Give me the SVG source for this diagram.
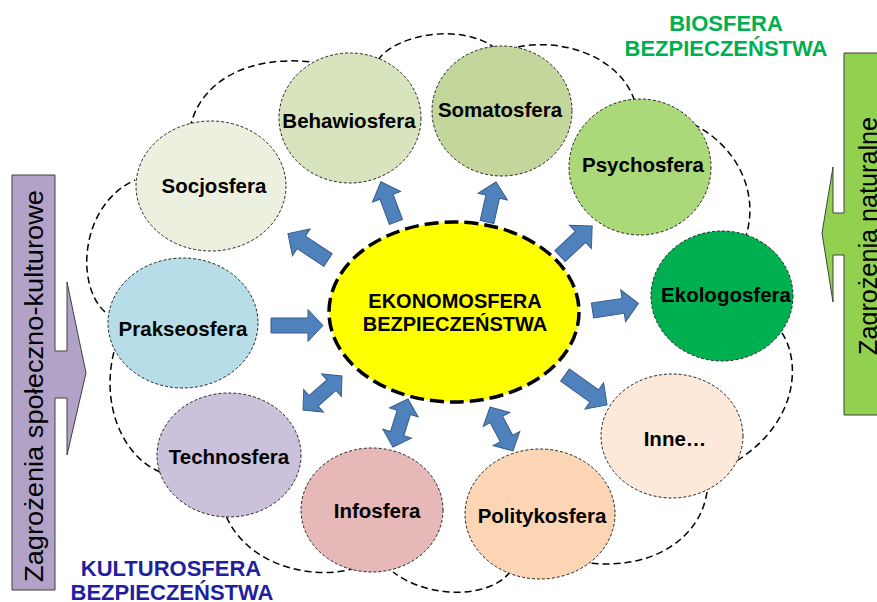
<svg xmlns="http://www.w3.org/2000/svg" width="877" height="602" viewBox="0 0 877 602">
<style>
.cloud{fill:none;stroke:#000;stroke-width:1.5;stroke-dasharray:7 4}
.node{stroke:#222;stroke-width:1;stroke-dasharray:3 2}
.lbl{font-family:"Liberation Sans",Arial,sans-serif;font-weight:bold;font-size:20.5px;fill:#000;text-anchor:middle}
.ctr{font-family:"Liberation Sans",Arial,sans-serif;font-weight:bold;font-size:20px;fill:#000;text-anchor:middle}
.arr{fill:#4f81bd;stroke:#385d8a;stroke-width:1}
.big{font-family:"Liberation Sans",Arial,sans-serif;font-weight:bold;font-size:22px;text-anchor:middle}
.side{font-family:"Liberation Sans",Arial,sans-serif;font-size:25px;fill:#000;text-anchor:middle}
</style>
<rect width="877" height="602" fill="#fff"/>
<g id="cloud">
<path class="cloud" d="M190,128 C200,80 250,55 312,62"/>
<path class="cloud" d="M378,60 C395,35 460,22 495,48"/>
<path class="cloud" d="M518,47 C560,38 620,55 635,102"/>
<path class="cloud" d="M693,124 C735,145 760,190 746,236"/>
<path class="cloud" d="M782,333 C800,360 800,420 738,460"/>
<path class="cloud" d="M707,492 C700,540 650,570 590,563"/>
<path class="cloud" d="M510,572 C490,598 430,600 393,572"/>
<path class="cloud" d="M355,568 C320,580 250,570 226,516"/>
<path class="cloud" d="M160,472 C120,455 100,400 115,348"/>
<path class="cloud" d="M105,312 C75,285 80,205 135,180"/>
</g>
<g id="left-threat">
<path d="M12,175 L55,175 L55,351 L67,351 L67,282 L86,373 L67,455 L67,398 L55,398 L55,590 L12,590 Z" fill="#b3a2c7" stroke="#404040" stroke-width="1"/>
<text class="side" transform="translate(43,386) rotate(-90)" textLength="392" lengthAdjust="spacingAndGlyphs">Zagrożenia społeczno-kulturowe</text>
</g>
<g id="right-threat">
<path d="M880,53 L844,53 L844,213 L833,213 L833,167 L822,233 L833,302 L833,255 L844,255 L844,415 L880,415" fill="#92d050" stroke="#404040" stroke-width="1"/>
<text class="side" transform="translate(877,236) rotate(-90)" textLength="238" lengthAdjust="spacingAndGlyphs">Zagrożenia naturalne</text>
</g>
<g id="biosfera-label">
<text class="big" fill="#00b050" x="726" y="31">BIOSFERA</text>
<text class="big" fill="#00b050" x="726" y="56">BEZPIECZEŃSTWA</text>
</g>
<g id="kulturosfera-label">
<text class="big" fill="#1f1fa0" x="171" y="576">KULTUROSFERA</text>
<text class="big" fill="#1f1fa0" x="172" y="600">BEZPIECZEŃSTWA</text>
</g>
<g id="socjosfera"><ellipse class="node" cx="211" cy="186" rx="75" ry="65" fill="#ebf1de"/><text class="lbl" x="214" y="193">Socjosfera</text></g>
<g id="behawiosfera"><ellipse class="node" cx="350" cy="118" rx="71" ry="65" fill="#d7e4bd" stroke="#5f7f9f"/><text class="lbl" x="349" y="128">Behawiosfera</text></g>
<g id="somatosfera"><ellipse class="node" cx="502" cy="111" rx="70" ry="65" fill="#c3d69b"/><text class="lbl" x="500" y="117">Somatosfera</text></g>
<g id="psychosfera"><ellipse class="node" cx="640" cy="167" rx="71" ry="68" fill="#abd97a"/><text class="lbl" x="643" y="172">Psychosfera</text></g>
<g id="ekologosfera"><ellipse class="node" cx="722" cy="296" rx="71" ry="65" fill="#00b050"/><text class="lbl" x="726" y="302">Ekologosfera</text></g>
<g id="inne"><ellipse class="node" cx="672" cy="436" rx="71" ry="62" fill="#fde9d9"/><text class="lbl" x="675" y="446">Inne…</text></g>
<g id="politykosfera"><ellipse class="node" cx="540" cy="514" rx="75" ry="65" fill="#fcd5b5"/><text class="lbl" x="542" y="523">Politykosfera</text></g>
<g id="infosfera"><ellipse class="node" cx="372" cy="510" rx="71" ry="62" fill="#e6b9b8"/><text class="lbl" x="377" y="518">Infosfera</text></g>
<g id="technosfera"><ellipse class="node" cx="229" cy="455" rx="72" ry="62" fill="#ccc1da"/><text class="lbl" x="229" y="464">Technosfera</text></g>
<g id="prakseosfera"><ellipse class="node" cx="183" cy="323" rx="75" ry="65" fill="#b7dee8"/><text class="lbl" x="183" y="336">Prakseosfera</text></g>
<g id="ekonomosfera">
<ellipse cx="454" cy="312" rx="125" ry="90" fill="#ffff00" stroke="#000" stroke-width="3.5" stroke-dasharray="14 6"/>
<text class="ctr" x="455" y="308">EKONOMOSFERA</text>
<text class="ctr" x="455" y="331">BEZPIECZEŃSTWA</text>
</g>
<g id="connectors">
<path class="arr" transform="translate(271,325.5) rotate(0)" d="M0,-7.5 L37,-7.5 L37,-16 L52,0 L37,16 L37,7.5 L0,7.5 Z"/>
<path class="arr" transform="translate(328,260) rotate(213.4)" d="M0,-7.5 L32,-7.5 L32,-16 L48,0 L32,16 L32,7.5 L0,7.5 Z"/>
<path class="arr" transform="translate(396,222) rotate(249.4)" d="M0,-7 L27,-7 L27,-15 L43,0 L27,15 L27,7 L0,7 Z"/>
<path class="arr" transform="translate(487,222) rotate(-77.3)" d="M0,-7 L26,-7 L26,-15 L41,0 L26,15 L26,7 L0,7 Z"/>
<path class="arr" transform="translate(560,256) rotate(-43)" d="M0,-7.5 L28,-7.5 L28,-16 L44,0 L28,16 L28,7.5 L0,7.5 Z"/>
<path class="arr" transform="translate(592.5,310.5) rotate(-8.7)" d="M0,-7.5 L31,-7.5 L31,-16 L46.5,0 L31,16 L31,7.5 L0,7.5 Z"/>
<path class="arr" transform="translate(565,375) rotate(35.5)" d="M0,-7.5 L36,-7.5 L36,-16 L51.6,0 L36,16 L36,7.5 L0,7.5 Z"/>
<path class="arr" transform="translate(490,407) rotate(62.4)" d="M0,0 L14,-15 L14,-7 L35.6,-7 L35.6,-15 L49.6,0 L35.6,15 L35.6,7 L14,7 L14,15 Z"/>
<path class="arr" transform="translate(408,399) rotate(107.4)" d="M0,0 L14,-15 L14,-7 L36.3,-7 L36.3,-15 L50.3,0 L36.3,15 L36.3,7 L14,7 L14,15 Z"/>
<path class="arr" transform="translate(342,376) rotate(138.9)" d="M0,0 L14,-15 L14,-7 L37.7,-7 L37.7,-15 L51.7,0 L37.7,15 L37.7,7 L14,7 L14,15 Z"/>
</g>
</svg>
